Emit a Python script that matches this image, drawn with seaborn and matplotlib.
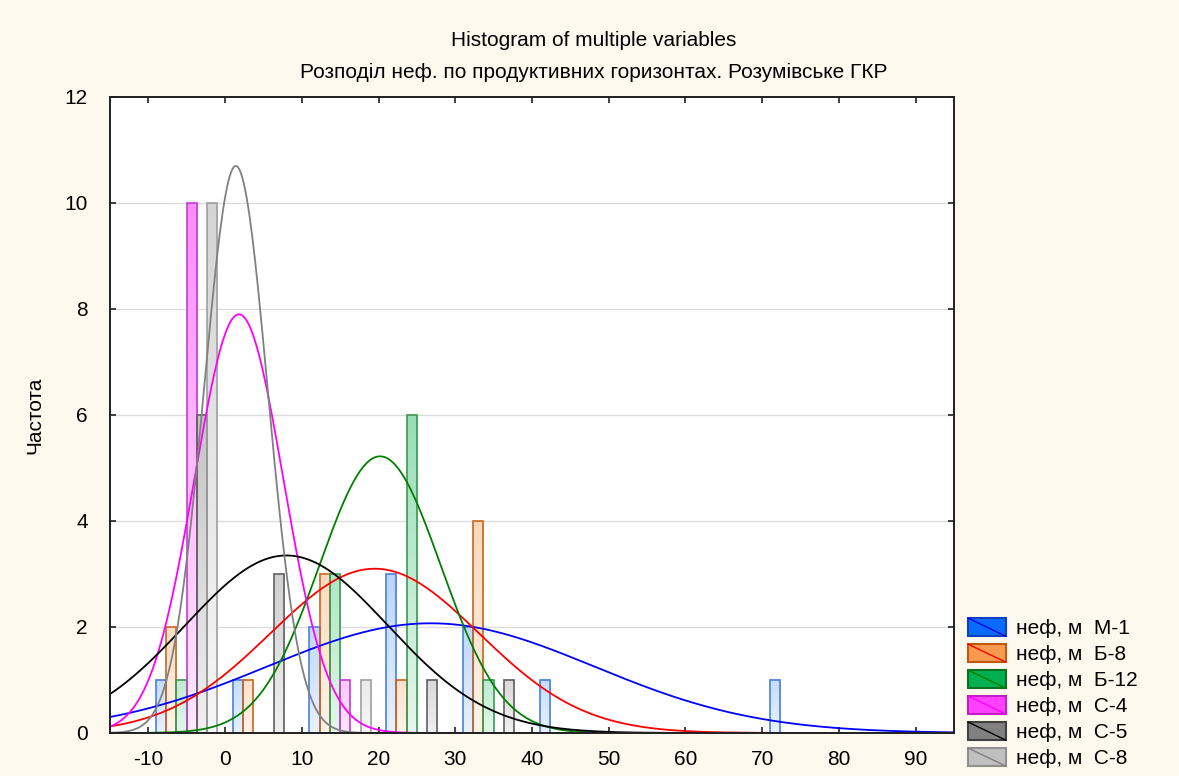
import numpy as np
import pandas as pd
import matplotlib
matplotlib.use("Agg")
import matplotlib.pyplot as plt
import seaborn as sns
from matplotlib.patches import Rectangle, Patch
from matplotlib.lines import Line2D
from matplotlib.legend_handler import HandlerBase
from matplotlib.colors import to_rgb

# ---------------- data ----------------
bin_centers = [-5, 5, 15, 25, 35, 45, 55, 65, 75]
series_names = ["неф, м  М-1", "неф, м  Б-8", "неф, м  Б-12", "неф, м  С-4", "неф, м  С-5", "неф, м  С-8"]
counts_M1 = [1, 1, 2, 3, 2, 1, 0, 0, 1]
counts_B8 = [2, 1, 3, 1, 4, 0, 0, 0, 0]
counts_B12 = [1, 0, 3, 6, 1, 0, 0, 0, 0]
counts_C4 = [10, 0, 1, 0, 0, 0, 0, 0, 0]
counts_C5 = [6, 3, 0, 1, 1, 0, 0, 0, 0]
counts_C8 = [10, 0, 1, 0, 0, 0, 0, 0, 0]
all_counts = [counts_M1, counts_B8, counts_B12, counts_C4, counts_C5, counts_C8]

# fitted normal curves: mean, sd, peak height
curve_mean = [26.8, 19.5, 20.2, 1.8, 8.0, 1.4]
curve_sd = [21.3, 13.6, 7.9, 5.8, 13.2, 4.15]
curve_peak = [2.07, 3.1, 5.22, 7.9, 3.35, 10.7]

x_ticks = [-10, 0, 10, 20, 30, 40, 50, 60, 70, 80, 90]
y_ticks = [0, 2, 4, 6, 8, 10, 12]

# ---------------- styles ----------------
legend_fill = ["#0a6cff", "#f79a50", "#00b050", "#ff40ff", "#808080", "#c0c0c0"]
legend_edge = ["#1040c0", "#c05a10", "#107020", "#c020c0", "#404040", "#909090"]
bar_base = ["#3d8cff", "#f79a50", "#20b860", "#ff40ff", "#808080", "#b8b8b8"]
bar_edge = ["#4a7fe0", "#c86820", "#3c9a50", "#c040d0", "#606060", "#a0a0a0"]
curve_color = ["#0000ff", "#ff0000", "#008000", "#ff00ff", "#000000", "#808080"]

FONT = ["Liberation Sans", "DejaVu Sans"]
plt.rcParams["font.family"] = FONT
FS = 15

rows = []
for name, cnts in zip(series_names, all_counts):
    for c, v in zip(bin_centers, cnts):
        rows.append({"bin": c, "count": v, "var": name})
df = pd.DataFrame(rows)

W, H = 1179, 776
fig = plt.figure(figsize=(W / 100, H / 100), dpi=100)
bg = "#fef9ee"
fig.patch.set_facecolor(bg)
ax = fig.add_axes([110 / W, 1 - 733 / H, (954 - 110) / W, (733 - 97) / H])
ax.set_facecolor("white")

sns.barplot(data=df, x="bin", y="count", hue="var", hue_order=series_names,
            native_scale=True, dodge=True, width=0.8, errorbar=None,
            palette=bar_edge, legend=False, ax=ax)

# gradient fills
for i, cont in enumerate(ax.containers):
    base = np.array(to_rgb(bar_base[i]))
    for bar in cont:
        h = bar.get_height()
        if h <= 0:
            bar.remove()
            continue
        x0 = bar.get_x()
        w = bar.get_width()
        w_top = max(0.38, 0.74 - 0.034 * h)
        w_bot = 0.88
        n = 64
        t = np.linspace(0, 1, n)[:, None]  # 0 top -> 1 bottom
        wmix = w_top + (w_bot - w_top) * t
        img = base[None, :] * (1 - wmix) + np.ones(3)[None, :] * wmix
        img = img[:, None, :]
        ax.imshow(img, extent=(x0, x0 + w, 0, h), aspect="auto",
                  interpolation="bilinear", zorder=1.5, origin="upper")
        bar.set_facecolor("none")
        bar.set_edgecolor(bar_edge[i])
        bar.set_linewidth(1.2)
        bar.set_zorder(2)

# normal curves
xs = np.linspace(-15, 95, 600)
for i in range(len(series_names)):
    ys = curve_peak[i] * np.exp(-0.5 * ((xs - curve_mean[i]) / curve_sd[i]) ** 2)
    sns.lineplot(x=xs, y=ys, color=curve_color[i], lw=1.3, ax=ax, zorder=3)

ax.set_xlim(-15, 95)
ax.set_ylim(0, 12)
ax.set_xticks(x_ticks)
ax.set_yticks(y_ticks)
ax.set_xticklabels([str(v) for v in x_ticks])
ax.set_yticklabels([str(v) for v in y_ticks])
ax.set_xlabel("")
ax.set_ylabel("")
ax.grid(False)
for yv in y_ticks[1:-1]:
    ax.axhline(yv, color="#dcdcdc", lw=1.0, zorder=0.5)
ax.set_axisbelow(True)
for s in ax.spines.values():
    s.set_color("#202020")
    s.set_linewidth(1.4)
    s.set_zorder(5)
ax.tick_params(axis="both", direction="in", length=4, width=1.2, color="#202020",
               top=True, right=True, labelsize=FS, pad=12)
ax.tick_params(axis="y", pad=16)

fig.text(594 / W, 1 - 40 / H, "Histogram of multiple variables", ha="center", va="center",
         fontsize=FS, family=FONT)
fig.text(594 / W, 1 - 72 / H, "Розподіл неф. по продуктивних горизонтах. Розумівське ГКР",
         ha="center", va="center", fontsize=FS, family=FONT)
fig.text(35 / W, 1 - 415 / H, "Частота", rotation=90, ha="center", va="center",
         fontsize=FS, family=FONT)


class SwatchHandler(HandlerBase):
    def __init__(self, fill, edge, line):
        super().__init__()
        self.fill, self.edge, self.line = fill, edge, line

    def create_artists(self, legend, orig_handle, xdescent, ydescent, width, height,
                       fontsize, trans):
        r = Rectangle((-xdescent, -ydescent), width, height, facecolor=self.fill,
                      edgecolor=self.edge, lw=1.5, transform=trans)
        l = Line2D([-xdescent, -xdescent + width], [-ydescent + height, -ydescent],
                   color=self.line, lw=1.0, transform=trans)
        return [r, l]


handles = [Patch(label=n) for n in series_names]
hmap = {h: SwatchHandler(legend_fill[i], legend_edge[i], curve_color[i]) for i, h in enumerate(handles)}
fig.legend(handles=handles, labels=series_names, handler_map=hmap, loc="upper left",
           bbox_to_anchor=(964 / W, 1 - 614 / H), frameon=False, fontsize=FS,
           handlelength=1.8, handleheight=0.95, handletextpad=0.5, labelspacing=0.28,
           borderaxespad=0, borderpad=0.2)

fig.savefig("out.png", dpi=100, facecolor=bg)
